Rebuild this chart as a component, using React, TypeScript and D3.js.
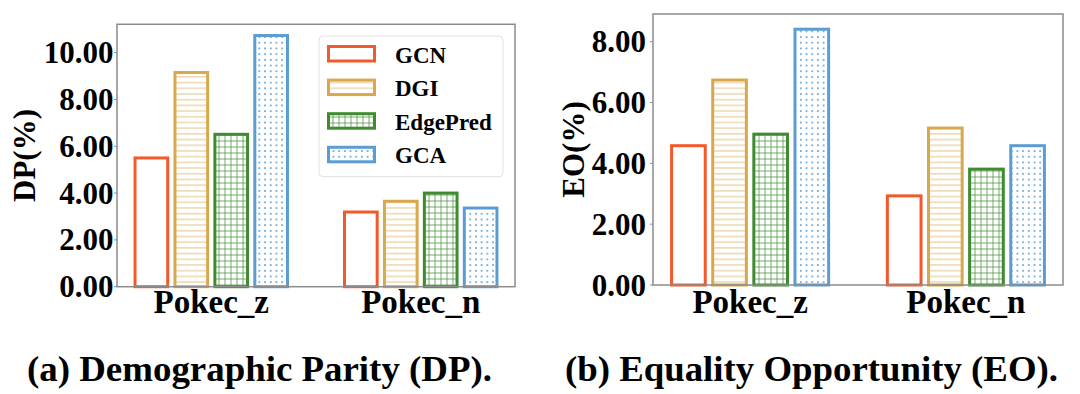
import React from "react";
import * as d3 from "d3";

// categories and methods
const categories = ["Pokec_z", "Pokec_n"];
const methods = ["GCN", "DGI", "EdgePred", "GCA"];

// DP(%) per method, [Pokec_z, Pokec_n]
const dpGCN = [5.5, 3.19];
const dpDGI = [9.15, 3.65];
const dpEdgePred = [6.51, 4.0];
const dpGCA = [10.73, 3.36];

// EO(%) per method, [Pokec_z, Pokec_n]
const eoGCN = [4.58, 2.93];
const eoDGI = [6.74, 5.16];
const eoEdgePred = [4.96, 3.81];
const eoGCA = [8.41, 4.58];

const dpTicks = [0, 2, 4, 6, 8, 10];
const eoTicks = [0, 2, 4, 6, 8];

const colors = ["#f25a2b", "#d8a94c", "#3f8b2f", "#5b9dd3"];
const hatches = ["none", "hline", "grid", "dots"];

const FONT = "Liberation Serif, DejaVu Serif, serif";
const txt = { fontFamily: FONT, fontWeight: 700 } as React.CSSProperties;

function Patterns() {
  return (
    <defs>
      <pattern id="hline" patternUnits="userSpaceOnUse" width={6} height={5.7}>
        <line x1={0} x2={6} y1={2.8} y2={2.8} stroke={colors[1]} strokeWidth={1} strokeOpacity={0.7} />
      </pattern>
      <pattern id="grid" patternUnits="userSpaceOnUse" width={6} height={6}>
        <line x1={0} x2={6} y1={3} y2={3} stroke={colors[2]} strokeWidth={1} strokeOpacity={0.7} />
        <line x1={3} x2={3} y1={0} y2={6} stroke={colors[2]} strokeWidth={1} strokeOpacity={0.7} />
      </pattern>
      <pattern id="dots" patternUnits="userSpaceOnUse" width={5.7} height={5.7}>
        <circle cx={2.8} cy={2.8} r={1} fill={colors[3]} />
      </pattern>
    </defs>
  );
}

function fillFor(i: number) {
  return hatches[i] === "none" ? "white" : `url(#${hatches[i]})`;
}

type PanelProps = {
  series: number[][];
  ticks: number[];
  yMax: number;
  label: string;
  left: number;
  right: number;
  top: number;
  bottom: number;
  labelX: number;
  tickEnd: number;
  legend?: boolean;
};

function Panel({ series, ticks, yMax, label, left, right, top, bottom, labelX, tickEnd, legend }: PanelProps) {
  const pitch = 0.1906;
  const barW = 0.156;
  const x = d3.scaleLinear().domain([-0.45, 1.45]).range([left, right]);
  const y = d3.scaleLinear().domain([0, yMax]).range([bottom, top]);
  const fmt = d3.format(".2f");

  return (
    <g>
      {/* bars */}
      {series.map((vals, i) =>
        vals.map((v, c) => {
          const cx = c + (i - 1.5) * pitch;
          const x0 = x(cx - barW / 2);
          const x1 = x(cx + barW / 2);
          return (
            <rect
              key={`${i}-${c}`}
              x={x0}
              y={y(v)}
              width={x1 - x0}
              height={y(0) - y(v)}
              fill={fillFor(i)}
              stroke={colors[i]}
              strokeWidth={3}
            />
          );
        })
      )}
      {/* frame */}
      <rect x={left} y={top} width={right - left} height={bottom - top} fill="none" stroke="#8c8c8c" strokeWidth={1.5} />
      {/* y ticks */}
      {ticks.map((t) => (
        <g key={t}>
          <line x1={left - 3} x2={left} y1={y(t)} y2={y(t)} stroke="#8c8c8c" strokeWidth={1} />
          <text x={tickEnd} y={y(t)} dy="0.34em" textAnchor="end" style={{ ...txt, fontSize: 31 }}>
            {fmt(t)}
          </text>
        </g>
      ))}
      {/* x labels */}
      {categories.map((c, i) => (
        <text key={c} x={x(i)} y={313} textAnchor="middle" style={{ ...txt, fontSize: 33 }}>
          {c}
        </text>
      ))}
      {/* y label */}
      <text
        transform={`translate(${labelX},${(top + bottom) / 2}) rotate(-90)`}
        dy="0.35em"
        textAnchor="middle"
        style={{ ...txt, fontSize: 31 }}
      >
        {label}
      </text>
      {legend && (
        <g>
          <rect x={319} y={36} width={184} height={140.7} rx={4} fill="white" fillOpacity={0.85} stroke="#e2e2e2" strokeWidth={1} />
          {methods.map((m, i) => {
            const py = 46.5 + i * 33.6;
            return (
              <g key={m}>
                <rect x={328.5} y={py} width={46} height={14.5} fill={fillFor(i)} stroke={colors[i]} strokeWidth={3} />
                <text x={395} y={py + 16} style={{ ...txt, fontSize: 23 }}>
                  {m}
                </text>
              </g>
            );
          })}
        </g>
      )}
    </g>
  );
}

export default function App() {
  const dpSeries = [dpGCN, dpDGI, dpEdgePred, dpGCA];
  const eoSeries = [eoGCN, eoDGI, eoEdgePred, eoGCA];
  return (
    <div style={{ position: "absolute", left: 0, top: 0 }}>
      <svg width={1080} height={394} style={{ display: "block", background: "white" }}>
        <Patterns />
        <Panel
          series={dpSeries}
          ticks={dpTicks}
          yMax={11.21}
          label="DP(%)"
          left={117}
          right={515}
          top={24.3}
          bottom={286.7}
          labelX={24}
          tickEnd={113.5}
          legend
        />
        <Panel
          series={eoSeries}
          ticks={eoTicks}
          yMax={8.91}
          label="EO(%)"
          left={653}
          right={1063}
          top={14}
          bottom={285}
          labelX={573}
          tickEnd={646}
        />
        <text x={27} y={381} textLength={465} lengthAdjust="spacingAndGlyphs" style={{ ...txt, fontSize: 35 }}>
          (a) Demographic Parity (DP).
        </text>
        <text x={565} y={381} textLength={493} lengthAdjust="spacingAndGlyphs" style={{ ...txt, fontSize: 35 }}>
          (b) Equality Opportunity (EO).
        </text>
      </svg>
    </div>
  );
}
